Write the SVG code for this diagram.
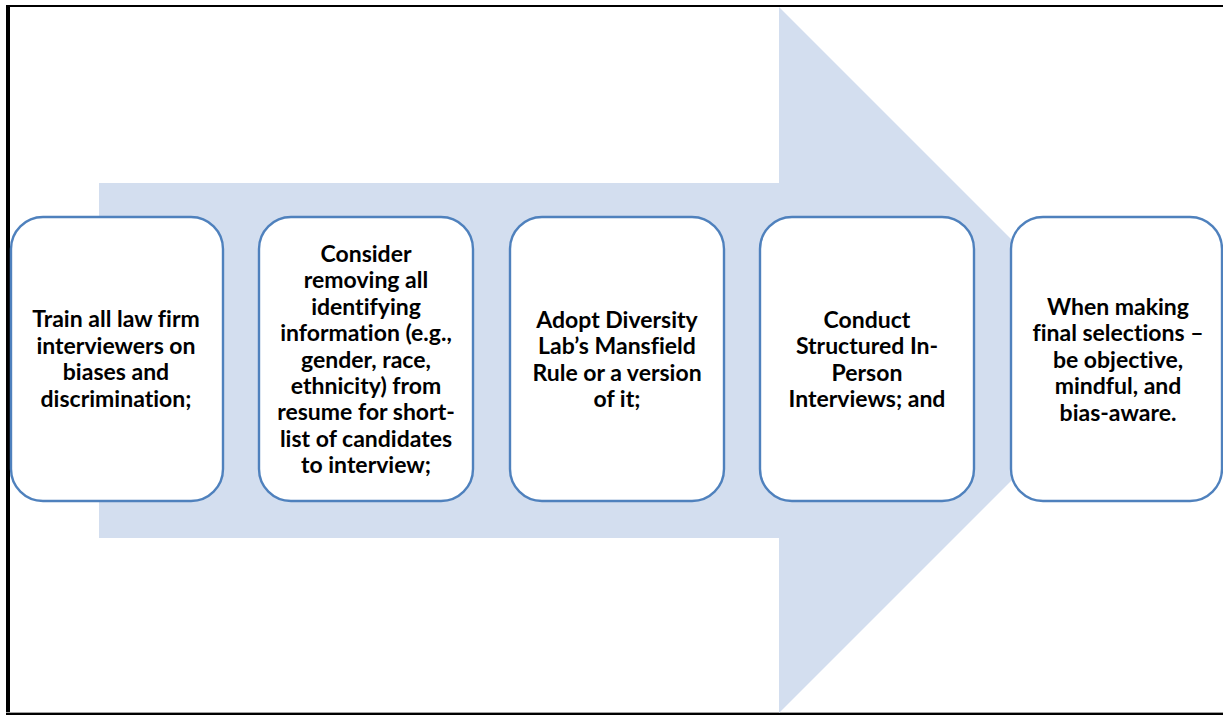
<svg xmlns="http://www.w3.org/2000/svg" width="1223" height="715" viewBox="0 0 1223 715">
<style>
.box{fill:#FFFFFF;stroke:#4F81BD;stroke-width:2.4}
.lbl{font-family:Lato,"Liberation Sans",sans-serif;font-weight:bold;font-size:23px;fill:#000000;text-anchor:middle;font-variant-ligatures:none}
</style>
<rect x="0" y="0" width="1223" height="715" fill="#FFFFFF"/>
<g id="frame">
<rect x="6" y="5" width="1217" height="2" fill="#000"/>
<rect x="6" y="5" width="4" height="710" fill="#000"/>
<rect x="6" y="712" width="1217" height="1" fill="#A0A0A0"/>
<rect x="6" y="713" width="1217" height="2" fill="#000"/>
</g>
<g id="connectors">
<polygon points="99,183 779,183 779,7 1132,360 779,713 779,538 99,538" fill="#D3DEEF"/>
</g>
<g id="node1">
<rect class="box" x="11" y="217" width="212" height="284" rx="32" ry="32"/>
<text class="lbl" x="116" y="327.4">Train all law firm</text>
<text class="lbl" x="116" y="353.8">interviewers on</text>
<text class="lbl" x="116" y="380.2">biases and</text>
<text class="lbl" x="116" y="406.6">discrimination;</text>
</g>
<g id="node2">
<rect class="box" x="259" y="217" width="214" height="284" rx="32" ry="32"/>
<text class="lbl" x="366" y="261.9">Consider</text>
<text class="lbl" x="366" y="288.3">removing all</text>
<text class="lbl" x="366" y="314.7">identifying</text>
<text class="lbl" x="366" y="341.1">information (e.g.,</text>
<text class="lbl" x="366" y="367.5">gender, race,</text>
<text class="lbl" x="366" y="393.9">ethnicity) from</text>
<text class="lbl" x="366" y="420.3">resume for short-</text>
<text class="lbl" x="366" y="446.7">list of candidates</text>
<text class="lbl" x="366" y="473.1">to interview;</text>
</g>
<g id="node3">
<rect class="box" x="510" y="217" width="214" height="284" rx="32" ry="32"/>
<text class="lbl" x="617" y="327.9">Adopt Diversity</text>
<text class="lbl" x="617" y="354.3">Lab’s Mansfield</text>
<text class="lbl" x="617" y="380.7">Rule or a version</text>
<text class="lbl" x="617" y="407.1">of it;</text>
</g>
<g id="node4">
<rect class="box" x="760" y="217" width="214" height="284" rx="32" ry="32"/>
<text class="lbl" x="867" y="327.9">Conduct</text>
<text class="lbl" x="867" y="354.3">Structured In-</text>
<text class="lbl" x="867" y="380.7">Person</text>
<text class="lbl" x="867" y="407.1">Interviews; and</text>
</g>
<g id="node5">
<rect class="box" x="1011" y="217" width="211" height="284" rx="32" ry="32"/>
<text class="lbl" x="1118" y="315">When making</text>
<text class="lbl" x="1118" y="341.4">final selections –</text>
<text class="lbl" x="1118" y="367.8">be objective,</text>
<text class="lbl" x="1118" y="394.2">mindful, and</text>
<text class="lbl" x="1118" y="420.6">bias-aware.</text>
</g>
</svg>
